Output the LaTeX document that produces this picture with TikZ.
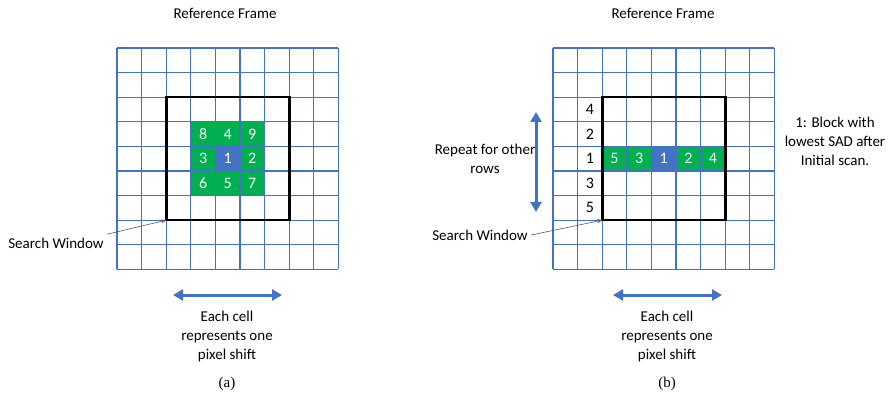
\documentclass[tikz,border=0pt]{standalone}
\usepackage{fontspec}
\setmainfont{Carlito}
\newfontfamily\capfont{Liberation Serif}
\usetikzlibrary{arrows.meta}
\definecolor{gblue}{HTML}{4472C4}
\definecolor{ggreen}{HTML}{00B050}
\begin{document}
\begin{tikzpicture}[x=1pt,y=-1pt,
 gridline/.style={draw=gblue,line width=1.3pt},
 win/.style={draw=black,line width=2.6pt},
 gcell/.style={fill=ggreen},
 bcell/.style={fill=gblue},
 num/.style={text=white,font=\fontsize{16}{18}\selectfont,inner sep=0pt},
 bnum/.style={text=black,font=\fontsize{16}{18}\selectfont,inner sep=0pt},
 lbl/.style={font=\fontsize{15}{19}\selectfont,align=center},
 captext/.style={font=\capfont\fontsize{15}{17}\selectfont},
 dbl/.style={draw=gblue,line width=3pt,{Triangle[length=10pt,width=11pt]}-{Triangle[length=10pt,width=11pt]}},
 ptr/.style={draw=gray!70!black,line width=0.6pt,-{Stealth[length=5pt,width=4pt]}}
]
\useasboundingbox (0,0) rectangle (896,403);
\def\c{24.6}
% ---------- (a) ----------
\begin{scope}[shift={(117,48)}]
  \fill[gcell] (3*\c,3*\c) rectangle (6*\c,6*\c);
  \fill[bcell] (4*\c,4*\c) rectangle (5*\c,5*\c);
  \foreach \k in {0,...,9} {
    \draw[gridline] (\k*\c,0) -- (\k*\c,9*\c);
    \draw[gridline] (0,\k*\c) -- (9*\c,\k*\c);
  }
  \draw[win] (2*\c,2*\c) rectangle (7*\c,7*\c);
  \coordinate (cornerA) at (2*\c,7*\c);
  \foreach \n/\i/\j in {8/3/3,4/4/3,9/5/3,3/3/4,1/4/4,2/5/4,6/3/5,5/4/5,7/5/5}
    \node[num] (a\n) at ({(\i+0.5)*\c},{(\j+0.5)*\c}) {\n};
\end{scope}
\node[lbl] (titleA) at (225,13) {Reference Frame};
\node[lbl] (swA) at (56,243) {Search Window};
\draw[ptr] (swA.north east) -- (cornerA);
\coordinate (hA1) at (173,295);
\coordinate (hA2) at (282,295);
\draw[dbl] (hA1) -- (hA2);
\node[lbl] (txtA) at (227,336) {Each cell\\represents one\\pixel shift};
\node[captext] (capA) at (227,384) {(a)};
% ---------- (b) ----------
\begin{scope}[shift={(553,48)}]
  \fill[gcell] (2*\c,4*\c) rectangle (7*\c,5*\c);
  \fill[bcell] (4*\c,4*\c) rectangle (5*\c,5*\c);
  \foreach \k in {0,...,9} {
    \draw[gridline] (\k*\c,0) -- (\k*\c,9*\c);
    \draw[gridline] (0,\k*\c) -- (9*\c,\k*\c);
  }
  \draw[win] (2*\c,2*\c) rectangle (7*\c,7*\c);
  \coordinate (cornerB) at (2*\c,7*\c);
  \foreach \n/\i in {5/2,3/3,1/4,2/5,4/6}
    \node[num] (bh\i) at ({(\i+0.5)*\c},{4.5*\c}) {\n};
  \foreach \n/\j in {4/2,2/3,1/4,3/5,5/6}
    \node[bnum] (bv\j) at ({1.5*\c},{(\j+0.5)*\c}) {\n};
\end{scope}
\node[lbl] (titleB) at (663,13) {Reference Frame};
\node[lbl] (rep) at (485,159) {Repeat for other\\rows};
\coordinate (vB1) at (536,112);
\coordinate (vB2) at (536,212);
\draw[dbl] (vB1) -- (vB2);
\node[lbl] (swB) at (480,235) {Search Window};
\draw[ptr] (swB.east) -- (cornerB);
\node[lbl] (note) at (835,141) {1: Block with\\lowest SAD after\\Initial scan.};
\coordinate (hB1) at (613,295);
\coordinate (hB2) at (722,295);
\draw[dbl] (hB1) -- (hB2);
\node[lbl] (txtB) at (667,336) {Each cell\\represents one\\pixel shift};
\node[captext] (capB) at (667,384) {(b)};
\end{tikzpicture}
\end{document}
